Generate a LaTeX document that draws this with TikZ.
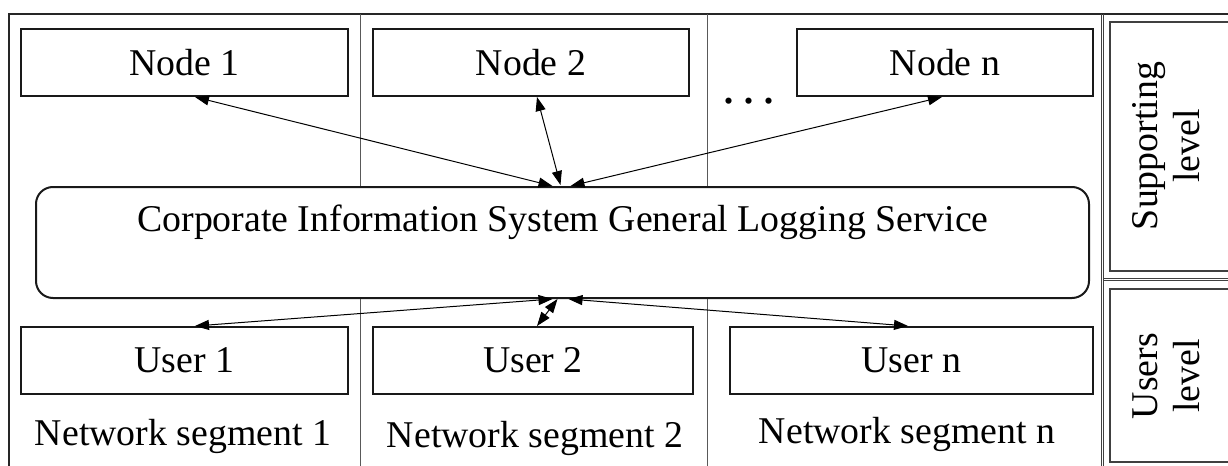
\documentclass[tikz,border=0pt]{standalone}
\usepackage{fontspec}
\setmainfont{Liberation Serif}
\usetikzlibrary{arrows.meta,calc}
\begin{document}
\begin{tikzpicture}[x=0.5pt,y=-0.5pt,
  lbl/.style={font=\fontsize{18.9}{21}\selectfont, inner sep=0pt},
  box/.style={draw=black!90, line width=1pt, minimum width=#1, minimum height=33.5pt, inner sep=0pt, font=\fontsize{18.9}{21}\selectfont},
  svcbox/.style={draw=black!90, line width=1pt, rounded corners=8.5pt, minimum width=526.5pt, minimum height=55.5pt, inner sep=0pt},
  divider/.style={draw=black!65, line width=0.5pt},
  frame/.style={draw=black!85, line width=1pt},
  thinframe/.style={draw=black!75, line width=0.45pt},
  conn/.style={draw=black, line width=0.5pt, {Triangle[length=7pt,width=5pt]}-{Triangle[length=7pt,width=5pt]}},
  side/.style={font=\fontsize{18.9}{21}\selectfont, rotate=90, align=center, inner sep=0pt}
]
\useasboundingbox (0,0) rectangle (1228,466);
\clip (0,0) rectangle (1228,466);

% outer frame
\draw[frame] (9,470) -- (9,14) -- (1232,14);
\draw[thinframe] (1101,14) -- (1101,470);
\draw[thinframe] (1103.5,14) -- (1103.5,470);
\draw[thinframe] (1103.5,278) -- (1232,278);
\draw[thinframe] (1103.5,280.5) -- (1232,280.5);

% level boxes
\draw[thinframe, line width=0.6pt] (1110,22) rectangle (1240,271);
\draw[thinframe, line width=0.6pt] (1110,289) rectangle (1240,462);
\node[side] (sup) at (1166,146) {Supporting\\level};
\node[side] (usr) at (1166,376) {Users\\level};

% top nodes
\node[box=163.5pt] (n1) at (184.5,62.5) {Node 1};
\node[box=158pt] (n2) at (531,62.5) {Node 2};
\node[box=148pt] (nn) at (945,62.5) {Node n};
\node[inner sep=0pt, anchor=base, font=\fontsize{26}{26}\selectfont] (dots) at (749,103) {.\kern3.5pt.\kern3.5pt.};

% service
\node[svcbox] (svc) at (562.5,242.5) {};
\node[lbl, anchor=base] (svct) at (563,231) {Corporate Information System General Logging Service};

% users
\node[box=163.5pt] (u1) at (184.5,360.5) {User 1};
\node[box=160pt] (u2) at (533,360.5) {User 2};
\node[box=181.5pt] (un) at (911.5,360.5) {User n};

% segment labels
\node[lbl, anchor=base] (s1) at (183,445) {Network segment 1};
\node[lbl, anchor=base] (s2) at (535,447) {Network segment 2};
\node[lbl, anchor=base] (sn) at (907,443) {Network segment n};

% dividers
\coordinate (d1t) at (360,14);
\coordinate (d2t) at (707,14);
\coordinate (d1b) at (360,470);
\coordinate (d2b) at (707,470);
\draw[divider] (d1t) -- (d1t |- svc.north);
\draw[divider] (d2t) -- (d2t |- svc.north);
\draw[divider] (d1b |- svc.south) -- (d1b);
\draw[divider] (d2b |- svc.south) -- (d2b);

% connectors
\draw[conn] ($(svc.north)+(-10,0)$) -- ($(n1.south)+(10.5,0)$);
\draw[conn] ($(svc.north)+(-2,-1)$) -- ($(n2.south)+(6,0)$);
\draw[conn] ($(svc.north)+(8,0)$) -- ($(nn.south)+(-3,0)$);
\draw[conn] ($(svc.south)+(-10,0)$) -- ($(u1.north)+(10.5,0)$);
\draw[conn] ($(svc.south)+(-5,0)$) -- ($(u2.north)+(4,0)$);
\draw[conn] ($(svc.south)+(6,0)$) -- ($(un.north)+(-3.5,0)$);
\end{tikzpicture}
\end{document}
